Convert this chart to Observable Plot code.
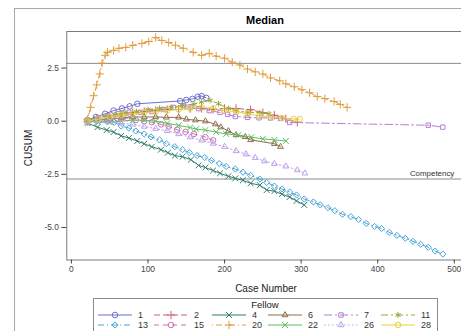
<!DOCTYPE html>
<html><head><meta charset="utf-8">
<script src="https://cdn.jsdelivr.net/npm/d3@7"></script>
<script src="https://cdn.jsdelivr.net/npm/@observablehq/plot@0.6"></script>
<style>
html,body{margin:0;padding:0;width:461px;height:331px;overflow:hidden;background:#fff;font-family:"Liberation Sans",Arial,sans-serif;}
#frame{position:absolute;left:14px;top:8px;width:520px;height:400px;border:1px solid #a8a8a8;box-sizing:border-box;}
#title{position:absolute;left:215px;width:100px;top:14px;text-align:center;font-weight:bold;font-size:11px;color:#000;}
#chart{position:absolute;left:0;top:31px;}
#ylab{position:absolute;left:28px;top:148px;transform:translate(-50%,-50%) rotate(-90deg);font-size:10px;color:#222;white-space:nowrap;}
#xlab{position:absolute;left:266px;top:288px;transform:translate(-50%,-50%);font-size:10px;color:#222;white-space:nowrap;}
#legend{position:absolute;left:0;top:0;}
</style></head>
<body>
<div id="frame"></div>
<div id="title">Median</div>
<div id="chart"></div>
<div id="ylab">CUSUM</div>
<div id="xlab">Case Number</div>
<svg id="legend" width="461" height="331"></svg>
<script>
// ---- data ----
const fellows = ["1","2","4","6","7","11","13","15","20","22","26","28"];

const case_1  = [21,32,44,55,66,76,86,142,150,158,165,170,176];
const cusum_1 = [0.05,0.2,0.35,0.5,0.6,0.7,0.82,0.95,1.0,1.05,1.15,1.18,1.1];

const case_2  = [21,35,50,65,80,95,110,125,140,155,170,185,200,215,234,250,265,280,295];
const cusum_2 = [0.0,0.1,0.2,0.3,0.4,0.45,0.5,0.55,0.55,0.6,0.6,0.55,0.6,0.6,0.54,0.4,0.28,0.12,-0.05];

const case_4  = [21,34,46,55,65,75,86,95,105,117,126,135,145,156,166,175,185,194,205,214,224,234,246,255,265,275,285,294,304];
const cusum_4 = [-0.09,-0.28,-0.42,-0.51,-0.69,-0.79,-0.93,-1.06,-1.2,-1.34,-1.48,-1.62,-1.67,-1.81,-2.08,-2.18,-2.32,-2.45,-2.59,-2.69,-2.78,-2.92,-3.01,-3.24,-3.29,-3.43,-3.57,-3.75,-3.94];

const case_6  = [21,35,50,65,80,95,110,124,140,150,162,175,188,195,205,215,227,234,265,273];
const cusum_6 = [0.0,0.05,0.1,0.15,0.2,0.2,0.2,0.18,0.18,0.09,0.05,0.0,-0.14,-0.28,-0.46,-0.65,-0.74,-0.88,-1.06,-1.2];

const case_7  = [21,35,48,62,75,90,105,120,133,146,156,166,180,194,204,214,230,245,260,273,285,466,485];
const cusum_7 = [0.05,0.15,0.25,0.35,0.42,0.42,0.45,0.55,0.65,0.73,0.68,0.59,0.5,0.41,0.32,0.22,0.18,0.16,0.15,0.13,-0.06,-0.19,-0.28];

const case_11  = [21,33,45,57,70,85,100,115,130,145,160,170,181,192,205,215,230,246,258];
const cusum_11 = [0.05,0.15,0.25,0.3,0.4,0.45,0.55,0.6,0.65,0.75,0.8,0.9,0.98,0.82,0.6,0.48,0.42,0.4,0.35];

const case_13  = [21,33,46,56,65,75,84,95,104,115,124,135,145,154,164,174,183,193,202,214,224,234,246,255,265,275,285,294,304,316,325,335,344,354,365,375,385,396,405,415,425,436,446,456,466,475,485];
const cusum_13 = [-0.05,0.0,0.0,-0.05,-0.23,-0.32,-0.46,-0.6,-0.74,-0.88,-1.06,-1.2,-1.34,-1.48,-1.62,-1.71,-1.85,-1.99,-2.13,-2.25,-2.4,-2.55,-2.72,-2.88,-3.05,-3.19,-3.33,-3.47,-3.66,-3.8,-3.94,-4.07,-4.21,-4.38,-4.49,-4.63,-4.81,-4.95,-5.05,-5.23,-5.37,-5.51,-5.65,-5.79,-5.93,-6.11,-6.25];

const case_15  = [21,34,47,60,73,84,95,105,117,127,138,149,160,175,185];
const cusum_15 = [0.0,0.05,0.1,0.14,0.14,0.05,0.0,-0.05,-0.15,-0.25,-0.4,-0.5,-0.6,-0.75,-0.9];

const case_20  = [21,25,29,33,37,40,44,47,55,62,71,80,92,101,110,118,127,136,146,159,170,180,189,200,210,220,230,240,250,260,272,280,291,301,311,321,331,343,351,360];
const cusum_20 = [0.09,0.65,1.2,1.71,2.22,2.73,3.1,3.24,3.33,3.43,3.47,3.57,3.66,3.75,3.94,3.8,3.7,3.57,3.43,3.24,3.1,3.19,3.06,2.96,2.78,2.64,2.45,2.32,2.22,2.04,1.9,1.76,1.62,1.48,1.34,1.16,1.06,0.93,0.79,0.65];

const case_22  = [21,35,50,65,80,95,110,125,140,155,163,175,189,202,218,235,250,265,280];
const cusum_22 = [0.0,-0.05,-0.05,0.0,0.05,0.05,0.0,-0.1,-0.2,-0.3,-0.37,-0.42,-0.51,-0.6,-0.65,-0.75,-0.83,-0.88,-0.93];

const case_26  = [21,35,50,65,80,95,110,125,140,155,170,185,200,215,228,240,252,265,280,295,305];
const cusum_26 = [0.0,0.0,-0.05,-0.1,-0.15,-0.25,-0.35,-0.45,-0.6,-0.75,-0.9,-1.05,-1.2,-1.4,-1.55,-1.72,-1.88,-2.0,-2.12,-2.3,-2.45];

const case_28  = [21,35,50,65,80,95,110,125,140,155,170,185,200,215,230,245,260,275,290,298];
const cusum_28 = [0.0,0.1,0.2,0.3,0.35,0.4,0.45,0.5,0.55,0.6,0.65,0.6,0.5,0.45,0.35,0.25,0.2,0.15,0.1,0.1];

const xTicks = [0,100,200,300,400,500];
const yTicks = [-5,-2.5,0,2.5];
const refLines = [2.72,-2.72];
const refLabelText = ["Competency"];
const refLabelX = [500];
const refLabelY = [-2.72];

// ---- styles ----
const colors = ["#6a6fc8","#d05a6e","#2f7d6d","#8c6c4a","#b57dd6","#98a83a","#45a3d8","#c96fb0","#e09b3a","#5cbd5c","#bba0ea","#e3d23c"];
const dashes = [null,"6,3",null,null,"8,3,2,3","7,3,2,3","6,3,1,3","5,4","1,3,6,3",null,"1.5,2.5",null];
const symbols = [d3.symbolCircle,d3.symbolPlus,d3.symbolTimes,d3.symbolTriangle2,d3.symbolSquare2,d3.symbolAsterisk,d3.symbolDiamond2,d3.symbolCircle,d3.symbolPlus,d3.symbolTimes,d3.symbolTriangle2,d3.symbolCircle];

const cases = [case_1,case_2,case_4,case_6,case_7,case_11,case_13,case_15,case_20,case_22,case_26,case_28];
const cusums = [cusum_1,cusum_2,cusum_4,cusum_6,cusum_7,cusum_11,cusum_13,cusum_15,cusum_20,cusum_22,cusum_26,cusum_28];

const R = 2.8;
const marks = [
  Plot.ruleY(refLines, {stroke:"#8a8a8a", strokeWidth:1}),
  Plot.text(refLabelText.map((t,i)=>({t, x:refLabelX[i], y:refLabelY[i]})), {x:"x", y:"y", text:"t", textAnchor:"end", dy:-6, fontSize:8, fill:"#333"}),
];
fellows.forEach((f,i)=>{
  const data = cases[i].map((x,j)=>({x, y:cusums[i][j]}));
  marks.push(Plot.line(data, {x:"x", y:"y", stroke:colors[i], strokeWidth:1, strokeDasharray:dashes[i] || undefined}));
  marks.push(Plot.dot(data, {x:"x", y:"y", stroke:colors[i], fill:"none", strokeWidth:1, symbol:symbols[i], r:R}));
});
marks.push(Plot.frame({stroke:"#7a7a7a"}));
marks.push(Plot.axisX({ticks:xTicks, tickFormat:d=>String(d), tickSize:4, tickPadding:2, label:null, fontSize:8.5}));
marks.push(Plot.axisY({ticks:yTicks, tickFormat:d=>d.toFixed(1).replace("\u2212","-"), tickSize:5, tickPadding:3, label:null, fontSize:8.5}));

const plot = Plot.plot({
  width:466, height:270,
  marginLeft:67, marginRight:0, marginTop:0, marginBottom:39,
  x:{domain:[-6.1,509.4]},
  y:{domain:[-6.53,4.22]},
  style:{fontFamily:"'Liberation Sans', Arial, sans-serif", color:"#444", background:"transparent", overflow:"visible"},
  marks
});
document.getElementById("chart").appendChild(plot);

// ---- legend ----
const lg = d3.select("#legend");
lg.append("rect").attr("x",93.5).attr("y",298.5).attr("width",344).attr("height",33).attr("fill","none").attr("stroke","#8a8a8a");
lg.append("text").attr("x",265).attr("y",305).attr("dy","0.35em").attr("text-anchor","middle").attr("font-size",9.5).attr("fill","#222").text("Fellow");
const colX = [98,154,212,268,324,381];
const rowY = [315,325];
fellows.forEach((f,i)=>{
  const cx = colX[i%6], cy = rowY[Math.floor(i/6)];
  lg.append("line").attr("x1",cx).attr("x2",cx+34).attr("y1",cy).attr("y2",cy)
    .attr("stroke",colors[i]).attr("stroke-width",1).attr("stroke-dasharray",dashes[i]);
  lg.append("path").attr("transform",`translate(${cx+17},${cy})`)
    .attr("d", d3.symbol().type(symbols[i]).size(R*R*Math.PI)())
    .attr("fill","none").attr("stroke",colors[i]).attr("stroke-width",1);
  lg.append("text").attr("x",cx+40).attr("y",cy).attr("dy","0.35em").attr("font-size",9).attr("fill","#333").text(f);
});
</script>
</body></html>
